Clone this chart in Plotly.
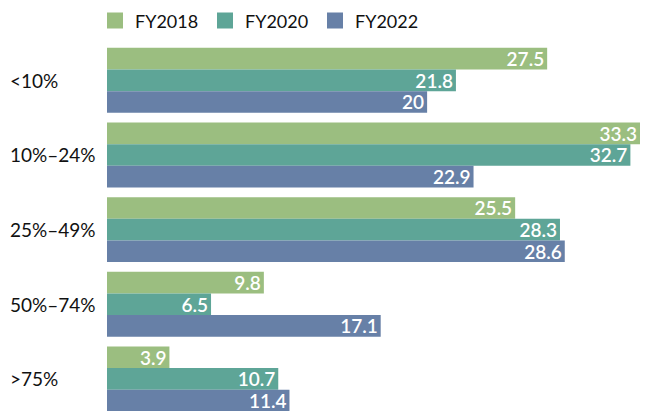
import plotly.graph_objects as go

categories = ["<10%", "10%–24%", "25%–49%", "50%–74%", ">75%"]
fy2018 = [27.5, 33.3, 25.5, 9.8, 3.9]
fy2020 = [21.8, 32.7, 28.3, 6.5, 10.7]
fy2022 = [20, 22.9, 28.6, 17.1, 11.4]
series = [("FY2018", fy2018, "#9BBE80"), ("FY2020", fy2020, "#5EA597"), ("FY2022", fy2022, "#6780A7")]

FONT = "Lato, 'Open Sans', sans-serif"

fig = go.Figure()
for name, vals, color in series:
    fig.add_trace(go.Bar(
        y=categories, x=vals, name=name, orientation="h", showlegend=False,
        marker=dict(color=color, line=dict(width=0)),
        text=[f"{v:g}" for v in vals], textposition="inside", textangle=0,
        insidetextanchor="end", constraintext="none",
        textfont=dict(family=FONT, size=19, color="white", weight=600),
    ))
# legend entries with larger square swatches
for name, vals, color in series:
    fig.add_trace(go.Scatter(
        x=[None], y=[None], mode="markers", name=name,
        marker=dict(symbol="square", size=16, color=color, line=dict(width=0)),
    ))

for c in categories:
    fig.add_annotation(x=0, xref="paper", xanchor="left", xshift=-99,
                       y=c, yref="y", text=c, showarrow=False,
                       font=dict(family=FONT, size=19, color="#111111"))

fig.update_layout(
    width=648, height=411,
    margin=dict(l=107, r=0, t=43, b=0),
    barmode="group", bargap=0.13, bargroupgap=0,
    plot_bgcolor="white", paper_bgcolor="white",
    font=dict(family=FONT, size=18, color="#111111"),
    legend=dict(orientation="h", x=-12/541, xanchor="left", y=1.06, yanchor="middle",
                font=dict(family=FONT, size=18, color="#111111"),
                itemwidth=30, entrywidth=65, entrywidthmode="pixels",
                tracegroupgap=0, traceorder="normal", itemsizing="trace"),
    showlegend=True,
    xaxis=dict(range=[0, 33.8], visible=False, fixedrange=True),
    yaxis=dict(range=[4.43, -0.5], showticklabels=False, showgrid=False,
               zeroline=False, showline=False, ticks="", fixedrange=True),
)

fig.write_html("out.html", config={"displayModeBar": False},
               post_script="document.body.style.margin='0';document.body.style.overflow='hidden';")
